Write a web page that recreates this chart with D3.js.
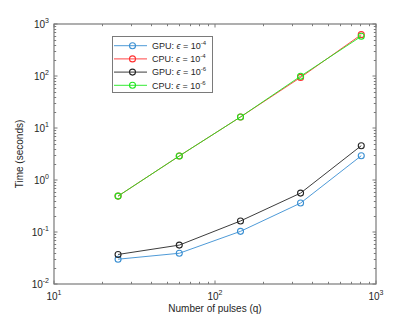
<!DOCTYPE html>
<html><head><meta charset="utf-8">
<script src="https://cdn.jsdelivr.net/npm/d3@7"></script>
<style>body{margin:0;background:#fff;} text{font-family:"Liberation Sans",Arial,sans-serif;}</style>
</head><body>
<svg id="c" width="415" height="320"></svg>
<script>
const pulses = [25, 60, 144, 340, 810];
const gpu4 = [0.030, 0.039, 0.103, 0.36, 2.93];
const cpu4 = [0.49, 2.9, 16.3, 94, 624];
const gpu6 = [0.037, 0.056, 0.163, 0.56, 4.57];
const cpu6 = [0.49, 2.9, 16.3, 99, 580];
const seriesNames = ["GPU", "CPU", "GPU", "CPU"];
const seriesExp = ["-4", "-4", "-6", "-6"];
const seriesColors = ["#3a8fd2", "#ff3030", "#262626", "#1ee81e"];
const xTickExp = [1, 2, 3];
const yTickExp = [-2, -1, 0, 1, 2, 3];
const xLabel = "Number of pulses (q)";
const yLabel = "Time (seconds)";

const seriesVals = [gpu4, cpu4, gpu6, cpu6];
const svg = d3.select("#c");
const L = 54, R = 376, T = 24, B = 284;
const x = d3.scaleLog().domain([10, 1000]).range([L, R]);
const y = d3.scaleLog().domain([0.01, 1000]).range([B, T]);
const axCol = "#7a7a7a";

const tl = 3.5, tm = 2.2;
const g = svg.append("g");
function minorVals(d0, d1) {
  const out = [];
  for (let e = Math.log10(d0); e < Math.log10(d1); e++)
    for (let k = 2; k <= 9; k++) out.push(k * Math.pow(10, e));
  return out;
}
xTickExp.forEach(e => {
  const px = x(Math.pow(10, e));
  g.append("line").attr("x1", px).attr("x2", px).attr("y1", B).attr("y2", B - tl).attr("stroke", axCol);
  g.append("line").attr("x1", px).attr("x2", px).attr("y1", T).attr("y2", T + tl).attr("stroke", axCol);
});
minorVals(10, 1000).forEach(v => {
  const px = Math.round(x(v)) + 0.5;
  g.append("line").attr("x1", px).attr("x2", px).attr("y1", B).attr("y2", B - tm).attr("stroke", axCol);
  g.append("line").attr("x1", px).attr("x2", px).attr("y1", T).attr("y2", T + tm).attr("stroke", axCol);
});
yTickExp.forEach(e => {
  const py = y(Math.pow(10, e));
  g.append("line").attr("x1", L).attr("x2", L + tl).attr("y1", py).attr("y2", py).attr("stroke", axCol);
  g.append("line").attr("x1", R).attr("x2", R - tl).attr("y1", py).attr("y2", py).attr("stroke", axCol);
});
minorVals(0.01, 1000).forEach(v => {
  const py = Math.round(y(v)) + 0.5;
  g.append("line").attr("x1", L).attr("x2", L + tm).attr("y1", py).attr("y2", py).attr("stroke", axCol);
  g.append("line").attr("x1", R).attr("x2", R - tm).attr("y1", py).attr("y2", py).attr("stroke", axCol);
});
svg.append("rect").attr("x", L).attr("y", T).attr("width", R - L).attr("height", B - T)
  .attr("fill", "none").attr("stroke", axCol).attr("stroke-width", 1.2);

xTickExp.forEach(e => {
  const t = svg.append("text").attr("x", x(Math.pow(10, e))).attr("y", 300)
    .attr("text-anchor", "middle").attr("font-size", 10).attr("fill", "#262626");
  t.append("tspan").text("10");
  t.append("tspan").attr("dy", -5).attr("font-size", 7).text(e);
});
yTickExp.forEach(e => {
  const t = svg.append("text").attr("x", 49).attr("y", y(Math.pow(10, e)) + 4)
    .attr("text-anchor", "end").attr("font-size", 10).attr("fill", "#262626");
  t.append("tspan").text("10");
  t.append("tspan").attr("dy", -5).attr("font-size", 7).text(e);
});

svg.append("text").attr("x", (L + R) / 2).attr("y", 312).attr("text-anchor", "middle")
  .attr("font-size", 10).attr("fill", "#262626").text(xLabel);
svg.append("text").attr("transform", `translate(23,${(T + B) / 2}) rotate(-90)`)
  .attr("text-anchor", "middle").attr("font-size", 10).attr("fill", "#262626").text(yLabel);

const line = d3.line().x((d, i) => x(pulses[i])).y(d => y(d));
seriesVals.forEach((vals, s) => {
  svg.append("path").attr("d", line(vals)).attr("fill", "none")
    .attr("stroke", seriesColors[s]).attr("stroke-width", 0.9);
  svg.selectAll(null).data(vals).enter().append("circle")
    .attr("cx", (d, i) => x(pulses[i])).attr("cy", d => y(d)).attr("r", 3)
    .attr("fill", "none").attr("stroke", seriesColors[s]).attr("stroke-width", 1.1);
});

const lg = svg.append("g");
lg.append("rect").attr("x", 112.5).attr("y", 36.5).attr("width", 100).attr("height", 56)
  .attr("fill", "#fff").attr("stroke", axCol).attr("stroke-width", 1);
seriesNames.forEach((n, s) => {
  const yy = 45.7 + s * 13.2;
  lg.append("line").attr("x1", 114).attr("x2", 147).attr("y1", yy).attr("y2", yy)
    .attr("stroke", seriesColors[s]).attr("stroke-width", 0.9);
  lg.append("circle").attr("cx", 132.5).attr("cy", yy).attr("r", 3)
    .attr("fill", "none").attr("stroke", seriesColors[s]).attr("stroke-width", 1.1);
  const t = lg.append("text").attr("x", 152).attr("y", yy + 3.2).attr("font-size", 9).attr("fill", "#262626");
  t.append("tspan").text(n + ": ");
  t.append("tspan").attr("font-style", "italic").text("\u03F5");
  t.append("tspan").text(" = 10");
  t.append("tspan").attr("dy", -4).attr("font-size", 6).text(seriesExp[s]);
});
</script>
</body></html>
